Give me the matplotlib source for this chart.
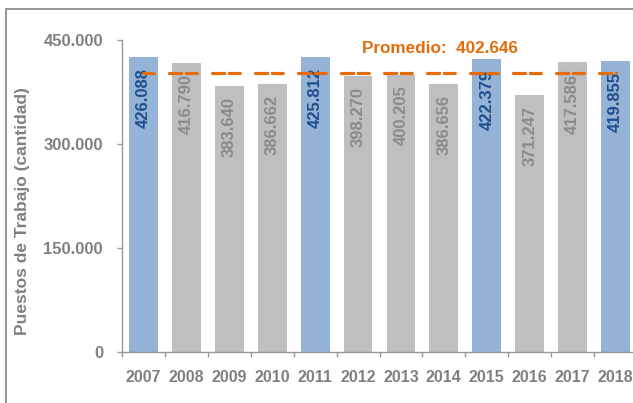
import numpy as np
import matplotlib
matplotlib.use("Agg")
import matplotlib.pyplot as plt
from matplotlib.patches import Rectangle

plt.rcParams['font.family'] = ['Liberation Sans', 'DejaVu Sans']
plt.rcParams['font.weight'] = 'bold'
plt.rcParams['lines.scale_dashes'] = False

# Data
years = ['2007', '2008', '2009', '2010', '2011', '2012', '2013', '2014', '2015', '2016', '2017', '2018']
puestos = [426088, 416790, 383640, 386662, 425812, 398270, 400205, 386656, 422379, 371247, 417586, 419855]
labels = ['426.088', '416.790', '383.640', '386.662', '425.812', '398.270', '400.205',
          '386.656', '422.379', '371.247', '417.586', '419.855']
destacados = ['2007', '2011', '2015', '2018']
promedio = 402646
promedio_txt = 'Promedio:  402.646'
yticks = [0, 150000, 300000, 450000]
ytick_labels = ['0', '150.000', '300.000', '450.000']

BLUE = '#95b3d7'
GREY = '#bfbfbf'
BLUE_TXT = '#1f4e8c'
GREY_TXT = '#8a8a8a'
AXIS_TXT = '#808080'
ORANGE = '#e46c0a'

W, H = 633, 403
fig = plt.figure(figsize=(W / 100, H / 100), dpi=100)
ax = fig.add_axes([122 / W, 1 - 352 / H, 515 / W, 312 / H])

x = np.arange(len(years))
colors = [BLUE if y in destacados else GREY for y in years]
ax.bar(x, puestos, width=0.67, color=colors, zorder=2)

# bar labels, vertical, inside the top of each bar
for i, (v, lab) in enumerate(zip(puestos, labels)):
    c = BLUE_TXT if years[i] in destacados else GREY_TXT
    ax.annotate(lab, (x[i], v), xytext=(0, -8), textcoords='offset points',
                rotation=90, ha='center', va='top', fontsize=12, color=c,
                fontweight='bold', zorder=3)

# average line, each segment restarting the dash pattern (like Excel)
prom = [promedio] * len(years)
for i in range(len(years) - 1):
    ax.plot(x[i:i + 2], prom[i:i + 2], color=ORANGE, lw=2.3,
            dashes=(7.8, 10.9, 8.9, 3.3), dash_capstyle='round', zorder=5)
ax.text(6.9, 437500, promedio_txt, color=ORANGE, fontsize=12.3, fontweight='bold',
        ha='center', va='center')

ax.set_xlim(-0.5, len(years) - 0.5)
ax.set_ylim(0, 450000)
ax.set_yticks(yticks)
ax.set_yticklabels(ytick_labels)
ax.set_xticks(x)
ax.set_xticklabels(years)
ax.set_xticks(np.arange(len(years) + 1) - 0.5, minor=True)

ax.tick_params(axis='y', length=3.6, width=1, color='#999999', direction='out',
               pad=10, labelsize=12, labelcolor=AXIS_TXT)
ax.tick_params(axis='x', which='major', length=0, pad=13, labelsize=11.5, labelcolor=AXIS_TXT)
ax.tick_params(axis='x', which='minor', length=3.6, width=1, color='#999999', direction='out')
for lab in ax.get_xticklabels() + ax.get_yticklabels():
    lab.set_fontweight('bold')

for s in ['top', 'right']:
    ax.spines[s].set_visible(False)
for s in ['left', 'bottom']:
    ax.spines[s].set_color('#999999')
    ax.spines[s].set_linewidth(1)

fig.text(23 / W, 1 - 211 / H, 'Puestos de Trabajo (cantidad)', rotation=90,
         ha='center', va='center', fontsize=12.5, fontweight='bold', color=AXIS_TXT)

# outer chart frame
fig.patches.append(Rectangle((6 / W, -0.1), 2, 1.1 - 9.5 / H, transform=fig.transFigure,
                             fill=False, edgecolor='#8c8c8c', linewidth=1.3))

fig.savefig('out.png', dpi=100)
